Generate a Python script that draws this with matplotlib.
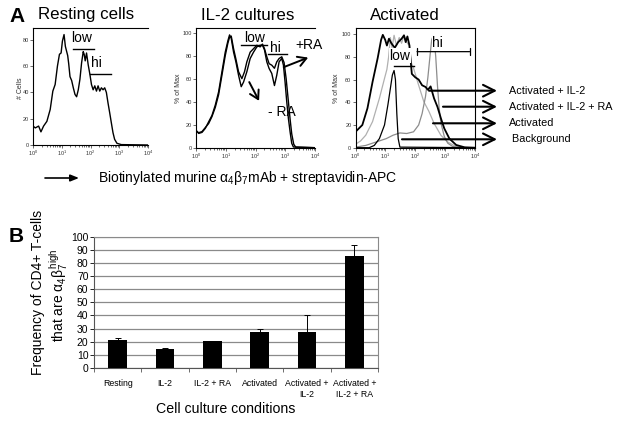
import numpy as np
import matplotlib
matplotlib.use('Agg')
import matplotlib.pyplot as plt
from matplotlib.patches import FancyArrowPatch

plt.rcParams['font.family'] = ['Liberation Sans', 'DejaVu Sans']
plt.rcParams['mathtext.fontset'] = 'custom'
plt.rcParams['mathtext.rm'] = 'Liberation Sans'
plt.rcParams['mathtext.it'] = 'Liberation Sans'
plt.rcParams['mathtext.bf'] = 'Liberation Sans:bold'

# ---- panel A: histograms (x in decades, log10 of fluorescence) ----
rest_dec = [0, 0.08, 0.195, 0.276, 0.368, 0.483, 0.598, 0.69, 0.77, 0.85, 0.92, 0.977,
            1.023, 1.08, 1.126, 1.172, 1.207, 1.241, 1.287, 1.345, 1.402, 1.46, 1.517,
            1.575, 1.632, 1.69, 1.747, 1.78, 1.816, 1.862, 1.92, 1.977, 2.034, 2.092,
            2.149, 2.207, 2.264, 2.322, 2.379, 2.437, 2.494, 2.552, 2.609, 2.667, 2.724,
            2.782, 2.839, 2.92, 3.07, 3.99]
rest_cells = [14.4, 13, 14.4, 10, 14.4, 18, 27, 41, 46, 60, 69, 70, 79, 84, 75, 71, 68, 62,
              52, 49, 43.5, 38.5, 36.7, 42, 50, 62.5, 71, 69, 64, 70, 61, 54, 46, 42, 45,
              41, 45, 41, 43.5, 42, 43.5, 40, 32, 24.6, 17, 9.4, 4.3, 1.3, 0.3, 0]

il2_dec = [0, 0.089, 0.201, 0.313, 0.425, 0.536, 0.648, 0.76, 0.872, 0.983, 1.073, 1.128,
           1.184, 1.263, 1.341, 1.43, 1.52, 1.598, 1.709, 1.821, 1.933, 2.045, 2.156,
           2.235, 2.302, 2.38, 2.458, 2.547, 2.637, 2.715, 2.793, 2.883, 2.939, 2.994,
           3.05, 3.106, 3.162, 3.218, 3.274, 4.0]
il2_minus_ra = [15.3, 12.4, 13.3, 16.8, 22.5, 28, 37, 48.5, 66, 83, 93, 98, 95, 83, 74.6,
                63, 53, 57, 66, 77.5, 83, 87.6, 89, 89, 85, 74.6, 68.8, 64.5, 54, 63, 74.6,
                77.5, 71.7, 57, 40, 25.4, 13.9, 3.8, 0.6, 0]
il2_ra_dec = [0, 0.089, 0.201, 0.313, 0.425, 0.536, 0.648, 0.76, 0.872, 0.983, 1.073, 1.128,
              1.184, 1.263, 1.341, 1.43, 1.542, 1.631, 1.709, 1.821, 1.933, 2.045, 2.156,
              2.235, 2.302, 2.38, 2.458, 2.547, 2.637, 2.715, 2.793, 2.883, 2.96, 3.03,
              3.106, 3.162, 3.218, 3.285, 3.352, 4.0]
il2_plus_ra = [14.5, 13, 14, 17.5, 21, 27, 35, 46, 63, 80, 91, 96, 97, 86, 77, 66, 60, 66,
               74.6, 83, 86, 89, 87.6, 90, 86, 79, 73, 71.7, 69, 74.6, 77.5, 79, 74, 60,
               40, 25, 12, 3, 0.5, 0]

act_il2_dec = [0, 0.114, 0.229, 0.4, 0.571, 0.743, 0.857, 0.914, 0.994, 1.051, 1.12, 1.2,
               1.314, 1.429, 1.543, 1.623, 1.68, 1.737, 1.806, 1.851, 1.886, 2.0, 2.114,
               2.229, 2.343, 2.423, 2.514, 2.629, 2.743, 2.857, 2.971, 3.143, 3.371, 3.657, 4.0]
act_il2 = [14, 17, 20, 34.7, 58, 79, 95, 99.4, 95, 90, 96, 92, 88, 93, 96, 99, 93, 98, 90,
           75, 65, 62, 60, 55, 53.5, 51, 54, 43.5, 36, 26, 17, 8, 2.4, 0.3, 0]

act_dec = [0, 0.171, 0.343, 0.571, 0.8, 0.971, 1.051, 1.109, 1.166, 1.223, 1.291, 1.371,
           1.463, 1.543, 1.623, 1.714, 1.794, 1.863, 1.943, 2.114, 2.286, 2.457, 2.629,
           2.857, 3.086, 3.314, 3.6, 4.0]
act = [3, 6, 11, 23, 43.5, 61, 69, 80, 97, 88, 99, 90, 97, 92, 99, 93, 90, 75, 70, 55,
       40.6, 32, 21.5, 11, 5, 1.8, 0.3, 0]

act_il2_ra_dec = [0, 0.343, 0.686, 1.029, 1.257, 1.486, 1.714, 1.943, 2.114, 2.229, 2.343,
                  2.423, 2.491, 2.549, 2.594, 2.64, 2.686, 2.743, 2.8, 2.857, 2.971, 3.086,
                  3.257, 3.543, 4.0]
act_il2_ra = [0.5, 2, 5, 8, 11, 13, 12.5, 14, 20, 30, 45, 62, 80, 95, 98, 94, 80, 55, 35, 22,
              10, 4, 1, 0.2, 0]

bg_dec = [0, 0.457, 0.629, 0.8, 0.971, 1.086, 1.166, 1.234, 1.291, 1.337, 1.383, 1.429,
          1.486, 4.0]
bg = [0, 0, 2, 8, 20, 38, 52, 64, 68, 60, 30, 8, 0.5, 0]

# ---- panel B: bar chart ----
conditions = ['Resting', 'IL-2', 'IL-2 + RA', 'Activated', 'Activated +\nIL-2',
              'Activated +\nIL-2 + RA']
freq_high = [21, 14.5, 20.5, 27.5, 27.5, 85.5]
freq_err = [2, 0.4, 0.4, 2.5, 12.5, 7.8]

W, H = 624, 422


def box(l, t, r, b):
    return [l / W, 1 - b / H, (r - l) / W, (b - t) / H]


def fp(x, y):
    return (x / W, 1 - y / H)


def hist_axes(fig, rect, ymax, yticks, ylabel, ylab_x, right=False):
    ax = fig.add_axes(rect)
    ax.set_xscale('log')
    ax.set_xlim(1, 1e4)
    ax.set_ylim(0, ymax)
    ax.set_yticks(yticks)
    ax.tick_params(labelsize=4, colors='#333333', length=2, width=0.5, pad=1)
    ax.tick_params(which='minor', length=1.2, width=0.4)
    for s in ax.spines.values():
        s.set_linewidth(0.8)
    ax.spines['right'].set_visible(right)
    fig.text(ylab_x / W, 1 - 88 / H, ylabel, rotation=90, fontsize=5,
             ha='center', va='center', color='#333333')
    return ax


fig = plt.figure(figsize=(6.24, 4.22), dpi=100)

fig.text(*fp(17, 17), 'A', fontsize=15, fontweight='bold', ha='center', va='center')
fig.text(*fp(86, 15), 'Resting cells', fontsize=12.2, ha='center', va='center')
fig.text(*fp(248, 15), 'IL-2 cultures', fontsize=12.2, ha='center', va='center')
fig.text(*fp(405, 15), 'Activated', fontsize=12.2, ha='center', va='center')

# resting
ax1 = hist_axes(fig, box(33, 28, 148, 145), 89, [0, 20, 40, 60, 80], '# Cells', 20)
ax1.plot(10 ** np.array(rest_dec), rest_cells, color='black', lw=1.0)
ax1.plot([10 ** 1.40, 10 ** 2.12], [72.8, 72.8], color='black', lw=1.0)
ax1.text(10 ** 1.68, 81.7, 'low', fontsize=10, ha='center', va='center')
ax1.plot([10 ** 1.98, 10 ** 2.71], [54, 54], color='black', lw=1.0)
ax1.text(10 ** 2.22, 62.7, 'hi', fontsize=10, ha='center', va='center')

# IL-2 cultures
ax2 = hist_axes(fig, box(196, 28, 315, 147.7), 104, [0, 20, 40, 60, 80, 100],
                '% of Max', 178)
ax2.plot(10 ** np.array(il2_dec), il2_minus_ra, color='black', lw=1.0)
ax2.plot(10 ** np.array(il2_ra_dec), il2_plus_ra, color='black', lw=1.0)
ax2.plot([10 ** 1.50, 10 ** 2.37], [89.5, 89.5], color='black', lw=1.0)
ax2.text(10 ** 1.96, 95.7, 'low', fontsize=10, ha='center', va='center')
ax2.plot([10 ** 2.42, 10 ** 3.06], [81.7, 81.7], color='black', lw=1.0)
ax2.text(10 ** 2.68, 86.6, 'hi', fontsize=10, ha='center', va='center')
ax2.text(10 ** 3.80, 89, '+RA', fontsize=10, ha='center', va='center', clip_on=False)
ax2.text(10 ** 2.90, 30.9, '- RA', fontsize=10, ha='center', va='center')
chev = dict(arrowstyle='->,head_length=0.6,head_width=0.35', lw=1.4, color='black',
            shrinkA=0, shrinkB=0)
ax2.annotate('', xy=(10 ** 3.77, 78.3), xytext=(10 ** 2.95, 70), arrowprops=chev,
             annotation_clip=False)
ax2.annotate('', xy=(10 ** 2.12, 40.7), xytext=(10 ** 1.79, 57), arrowprops=chev)

# activated
ax3 = hist_axes(fig, box(355.5, 27.7, 475, 147.7), 105.7, [0, 20, 40, 60, 80, 100],
                '% of Max', 337, right=True)
ax3.plot(10 ** np.array(act_dec), act, color='#b0b0b0', lw=0.9)
ax3.plot(10 ** np.array(act_il2_ra_dec), act_il2_ra, color='#8c8c8c', lw=0.9)
ax3.plot(10 ** np.array(bg_dec), bg, color='black', lw=0.9)
ax3.plot(10 ** np.array(act_il2_dec), act_il2, color='black', lw=1.3)
ax3.plot([10 ** 1.29, 10 ** 1.97], [72.3, 72.3], color='black', lw=1.0)
ax3.text(10 ** 1.49, 81, 'low', fontsize=10, ha='center', va='center',
         bbox=dict(facecolor='white', edgecolor='none', pad=0.5))
ax3.annotate('', xy=(10 ** 3.82, 84.6), xytext=(10 ** 2.06, 84.6),
             arrowprops=dict(arrowstyle='|-|,widthA=0.25,widthB=0.25', lw=0.9,
                             color='black', shrinkA=0, shrinkB=0))
ax3.text(10 ** 2.74, 92, 'hi', fontsize=10, ha='center', va='center',
         bbox=dict(facecolor='white', edgecolor='none', pad=0.3))

# legend arrows to the right of the activated panel
legend_rows = [('Activated + IL-2', 429, 90.7, 509),
               ('Activated + IL-2 + RA', 443, 106.7, 509),
               ('Activated', 433, 123.3, 509),
               (' Background', 402, 139.3, 509)]
for label, x0, y0, tx in legend_rows:
    fig.add_artist(FancyArrowPatch(
        fp(x0, y0), fp(497, y0), transform=fig.transFigure,
        arrowstyle='->,head_length=0.7,head_width=0.35', lw=1.5, color='black',
        mutation_scale=12, shrinkA=0, shrinkB=0))
    fig.text(*fp(tx, y0), label, fontsize=7.8, ha='left', va='center')

# x-axis reagent label
fig.add_artist(FancyArrowPatch(
    fp(45, 178), fp(79, 178), transform=fig.transFigure,
    arrowstyle='-|>,head_length=0.5,head_width=0.2', lw=1.2, color='black',
    mutation_scale=10, shrinkA=0, shrinkB=0))
fig.text(*fp(98, 178), r'Biotinylated murine $\alpha_4\beta_7$mAb + streptavidin-APC',
         fontsize=10, ha='left', va='center')

# ---- panel B ----
fig.text(*fp(16, 236), 'B', fontsize=15, fontweight='bold', ha='center', va='center')
axb = fig.add_axes(box(94, 236.7, 378, 368))
x = np.arange(len(conditions))
axb.bar(x, freq_high, width=0.4, color='black', zorder=3,
        yerr=[np.zeros(len(freq_err)), freq_err],
        error_kw=dict(ecolor='black', elinewidth=0.7, capsize=2, capthick=0.7, zorder=4))
axb.set_xlim(-0.5, len(conditions) - 0.5)
axb.set_ylim(0, 100)
axb.set_yticks(np.arange(0, 101, 10))
axb.yaxis.grid(True, color='#8a8a8a', lw=0.9, zorder=0)
axb.set_axisbelow(True)
axb.set_xticks(x)
axb.set_xticklabels(conditions, fontsize=6.3)
axb.set_xticks(np.arange(-0.5, len(conditions), 1), minor=True)
axb.tick_params(axis='x', which='major', length=0, pad=8)
axb.tick_params(axis='x', which='minor', length=3, width=0.6, color='#555555')
axb.tick_params(axis='y', labelsize=7.5, length=3, width=0.6, pad=1)
for side in ['top', 'right']:
    axb.spines[side].set_color('#8a8a8a')
axb.spines['left'].set_color('#555555')
axb.spines['bottom'].set_color('#555555')
fig.text(*fp(226, 409), 'Cell culture conditions', fontsize=10.2, ha='center', va='center')
fig.text(*fp(38, 292), 'Frequency of CD4+ T-cells', fontsize=10, rotation=90,
         ha='center', va='center')
fig.text(*fp(59, 295), r'that are $\alpha_4\beta_7^{high}$', fontsize=10, rotation=90,
         ha='center', va='center')

fig.savefig('out.png', dpi=100)
